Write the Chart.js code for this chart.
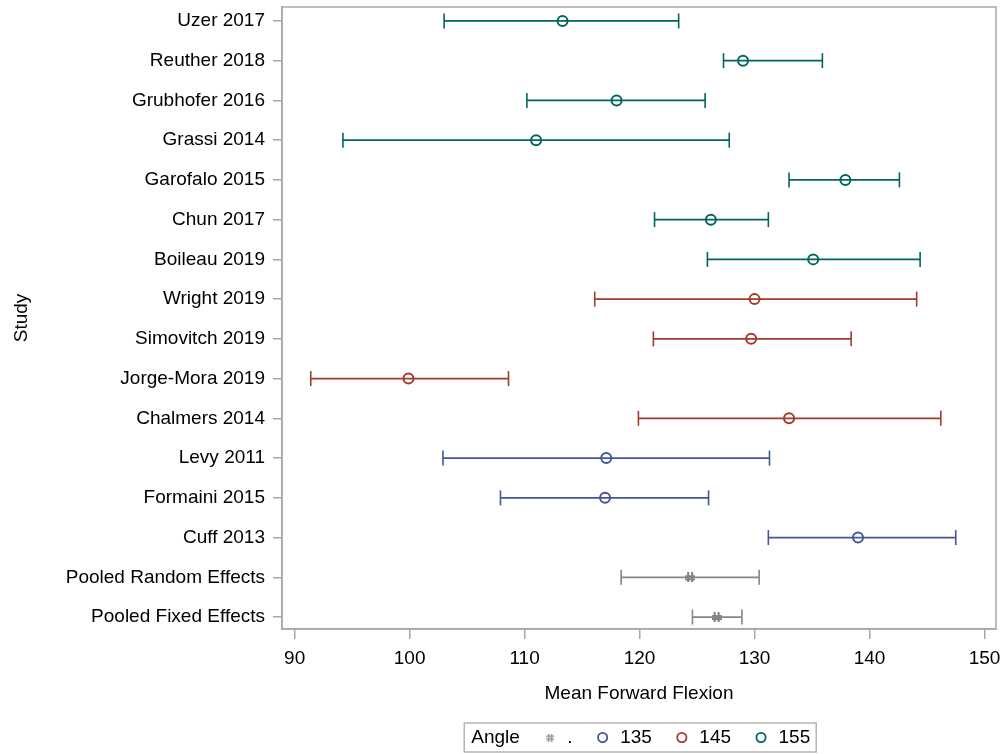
<!DOCTYPE html>
<html>
<head>
<meta charset="utf-8">
<script src="https://cdn.jsdelivr.net/npm/chart.js@4.4.1/dist/chart.umd.min.js"></script>
<style>
html,body{margin:0;padding:0;background:#fff;}
#wrap{width:1002px;height:754px;position:relative;}
</style>
</head>
<body>
<div id="wrap"><canvas id="c" width="1002" height="754"></canvas></div>
<script>
// ---- data (top row first) ----
const studies = ['Uzer 2017','Reuther 2018','Grubhofer 2016','Grassi 2014','Garofalo 2015','Chun 2017','Boileau 2019','Wright 2019','Simovitch 2019','Jorge-Mora 2019','Chalmers 2014','Levy 2011','Formaini 2015','Cuff 2013','Pooled Random Effects','Pooled Fixed Effects'];
const lowerCI = [103.0,127.3,110.2,94.2,133.0,121.3,125.9,116.1,121.2,91.4,119.9,102.9,107.9,131.2,118.4,124.6];
const meanFlex = [113.3,129.0,118.0,111.0,137.9,126.2,135.1,130.0,129.7,99.9,133.0,117.1,117.0,139.0,124.4,126.7];
const upperCI = [123.4,135.9,125.7,127.8,142.6,131.2,144.4,144.1,138.4,108.6,146.2,131.3,126.0,147.5,130.4,128.9];
const angleGroup = ['155','155','155','155','155','155','155','145','145','145','145','135','135','135','.','.'];
const legendGroups = ['.','135','145','155'];
const xTicks = [90,100,110,120,130,140,150];

// ---- styles ----
const groupColor = {'.':'#858585','135':'#445694','145':'#A23A2E','155':'#01665E'};
const FONT = {family:'"Liberation Sans", Arial, sans-serif', size:19};
const AXIS = '#a8a8a8';

function makeHash(color, w, h, t){
  const c = document.createElement('canvas');
  c.width = w; c.height = h;
  const g = c.getContext('2d');
  g.fillStyle = color;
  g.fillRect(Math.round(w*0.2),0,t,h);
  g.fillRect(Math.round(w*0.6),0,t,h);
  g.fillRect(0,Math.round(h*0.25),w,t);
  g.fillRect(0,Math.round(h*0.6),w,t);
  return c;
}
const hashMark = makeHash('#7f7f7f', 10, 10, 2);
const hashLegend = makeHash('#9a9a9a', 8, 8, 1.5);
const blank = document.createElement('canvas'); blank.width = 1; blank.height = 1;

// ---- datasets ----
const datasets = [];
studies.forEach((s,i)=>{
  const col = groupColor[angleGroup[i]];
  datasets.push({
    type:'line',
    data:[{x:lowerCI[i],y:i},{x:upperCI[i],y:i}],
    borderColor:col, borderWidth:1.6, fill:false,
    pointStyle:'line', pointRotation:90, pointRadius:7.5, pointHoverRadius:7.5,
    pointBorderColor:col, pointBorderWidth:1.6
  });
});
legendGroups.forEach(gp=>{
  const col = groupColor[gp];
  const pts = [];
  studies.forEach((s,i)=>{ if(angleGroup[i]===gp) pts.push({x:meanFlex[i],y:i}); });
  datasets.push({
    type:'scatter', label:gp, data:pts,
    pointStyle: gp==='.' ? hashMark : 'circle',
    pointRadius:5, pointHoverRadius:5, pointBorderWidth:2,
    pointBorderColor:col, pointBackgroundColor:'#ffffff'
  });
});

const framePlugin = {
  id:'frame',
  afterLayout(chart){
    const lg = chart.legend;
    if(lg){ lg.left -= 11; lg.right -= 11; lg.top += 3; lg.bottom += 3; }
  },
  beforeDatasetsDraw(chart){
    const a = chart.chartArea, ctx = chart.ctx;
    ctx.save();
    ctx.strokeStyle = AXIS; ctx.lineWidth = 1.5;
    ctx.strokeRect(a.left, a.top, a.right-a.left, a.bottom-a.top);
    ctx.restore();
  },
  afterDraw(chart){
    const lg = chart.legend, ctx = chart.ctx;
    const hb = lg.legendHitBoxes;
    if(!hb || !hb.length) return;
    const first = hb[0], last = hb[hb.length-1];
    const l = first.left + 16 + FONT.size/2 - 7;
    const r = last.left + last.width + 6;
    const cy = first.top + first.height/2;
    ctx.save();
    ctx.strokeStyle = '#b5b5b5'; ctx.lineWidth = 1.5;
    ctx.strokeRect(l, cy-14.5, r-l, 29);
    ctx.restore();
  }
};

new Chart(document.getElementById('c'), {
  data:{datasets},
  options:{
    responsive:false, animation:false, events:[],
    layout:{autoPadding:false, padding:{top:7,right:6,left:0,bottom:0}},
    plugins:{
      tooltip:{enabled:false},
      legend:{
        position:'bottom', fullSize:false, align:'center',
        onClick:null,
        labels:{
          usePointStyle:true, boxWidth:16, boxHeight:6.5, padding:22,
          font:FONT, color:'#000',
          generateLabels(){
            const items = [{text:'Angle', pointStyle:blank, fillStyle:'rgba(0,0,0,0)', strokeStyle:'rgba(0,0,0,0)', lineWidth:0, hidden:false}];
            legendGroups.forEach(gp=>{
              items.push({
                text:gp,
                pointStyle: gp==='.' ? hashLegend : 'circle',
                fillStyle:'#ffffff', strokeStyle:groupColor[gp], lineWidth:1.8, hidden:false
              });
            });
            return items;
          }
        }
      }
    },
    scales:{
      x:{
        type:'linear', position:'bottom', min:88.9, max:151,
        afterBuildTicks(s){ s.ticks = xTicks.map(v=>({value:v})); },
        afterFit(s){ s.height = 74; s.paddingLeft = 0; s.paddingRight = 0; },
        ticks:{font:FONT, color:'#000', padding:8, autoSkip:false, maxRotation:0},
        grid:{display:true, drawOnChartArea:false, drawTicks:true, tickLength:10, color:AXIS, lineWidth:1.5},
        border:{display:true, color:AXIS, width:1.5},
        title:{display:true, text:'Mean Forward Flexion', font:FONT, color:'#000', padding:{top:0,bottom:-2}}
      },
      y:{
        type:'linear', reverse:true, min:-0.35, max:15.3,
        afterBuildTicks(s){ s.ticks = studies.map((n,i)=>({value:i})); },
        afterFit(s){ s.width = 282; s.paddingTop = 0; s.paddingBottom = 0; },
        ticks:{font:FONT, color:'#000', padding:8, autoSkip:false, callback:(v)=>studies[v]},
        grid:{display:true, drawOnChartArea:false, drawTicks:true, tickLength:9, color:AXIS, lineWidth:1.5},
        border:{display:true, color:AXIS, width:1.5},
        title:{display:true, text:'Study', font:FONT, color:'#000', padding:{top:10,bottom:0}}
      }
    }
  },
  plugins:[framePlugin]
});
</script>
</body>
</html>
